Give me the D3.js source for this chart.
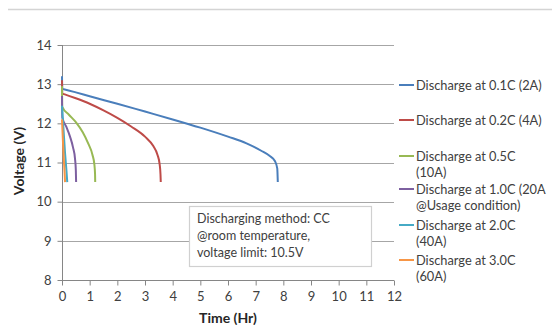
<!DOCTYPE html>
<html><head><meta charset="utf-8">
<script src="https://cdn.jsdelivr.net/npm/d3@7"></script>
<style>body{margin:0;background:#fff}svg{display:block}text{font-family:Lato,"Open Sans",sans-serif}</style>
</head><body><svg id="c" width="552" height="325"></svg>
<script>
// Data (time in hours, voltage in V)
const seriesNames = ["Discharge at 0.1C (2A)","Discharge at 0.2C (4A)","Discharge at 0.5C (10A)","Discharge at 1.0C (20A @Usage condition)","Discharge at 2.0C (40A)","Discharge at 3.0C (60A)"];
const legendLines = [["Discharge at 0.1C (2A)"],["Discharge at 0.2C (4A)"],["Discharge at 0.5C","(10A)"],["Discharge at 1.0C (20A","@Usage condition)"],["Discharge at 2.0C","(40A)"],["Discharge at 3.0C","(60A)"]];
const colors = ["#4A7EBB","#BE4B48","#98B954","#7D60A0","#46AAC5","#F79646"];
const d01 = [[0,13.2],[0.01,12.88],[0.1,12.865],[0.5,12.79],[1,12.69],[2,12.5],[3,12.3],[4,12.1],[5,11.89],[6,11.66],[6.67,11.49],[7.2,11.3],[7.5,11.17],[7.7,11.03],[7.78,10.85],[7.8,10.5]];
const d02 = [[0,13.1],[0.01,12.76],[0.1,12.74],[0.5,12.64],[1,12.5],[1.5,12.33],[2,12.14],[2.5,11.92],[3,11.66],[3.3,11.42],[3.45,11.2],[3.53,10.95],[3.56,10.7],[3.57,10.5]];
const d05 = [[0,12.95],[0.01,12.42],[0.25,12.22],[0.5,12.03],[0.75,11.77],[0.95,11.48],[1.1,11.2],[1.17,10.95],[1.195,10.7],[1.2,10.5]];
const d10 = [[0,12.7],[0.01,12.15],[0.15,11.92],[0.29,11.66],[0.4,11.38],[0.47,11.1],[0.5,10.8],[0.51,10.5]];
const d20 = [[0,12.45],[0.05,11.9],[0.11,11.24],[0.16,10.8],[0.19,10.5]];
const d30 = [[0,12.1],[0.03,11.6],[0.06,11.15],[0.09,10.8],[0.11,10.5]];
const seriesData = [d01,d02,d05,d10,d20,d30];
const xTicks = [0,1,2,3,4,5,6,7,8,9,10,11,12];
const yTicks = [8,9,10,11,12,13,14];
const noteLines = ["Discharging method: CC","@room temperature,","voltage limit: 10.5V"];

const svg = d3.select("#c");
const x = d3.scaleLinear().domain([0,12]).range([62,394]);
const y = d3.scaleLinear().domain([8,14]).range([280,45]);

// top separator line
svg.append("line").attr("x1",8).attr("x2",552).attr("y1",9.5).attr("y2",9.5).attr("stroke","#d4d4d4").attr("stroke-width",1.5);

// gridlines
svg.append("g").selectAll("line").data(yTicks.filter(v=>v>8)).join("line")
  .attr("x1",x(0)).attr("x2",x(12)).attr("y1",d=>Math.round(y(d))+0.5).attr("y2",d=>Math.round(y(d))+0.5)
  .attr("stroke","#a6a6a6").attr("stroke-width",1);

// axes
const yAxis = d3.axisLeft(y).tickValues(yTicks).tickFormat(d3.format("d")).tickSize(5).tickPadding(6);
const gy = svg.append("g").attr("transform",`translate(${x(0)+0.5},0)`).call(yAxis);
const xAxis = d3.axisBottom(x).tickValues(xTicks).tickFormat(d3.format("d")).tickSize(5).tickPadding(6);
const gx = svg.append("g").attr("transform",`translate(0,${y(8)+0.5})`).call(xAxis);
[gx,gy].forEach(g=>{
  g.select(".domain").attr("stroke","#868686");
  g.selectAll(".tick line").attr("stroke","#868686");
  g.selectAll(".tick text").attr("fill","#404040").style("font-size","13px").style("font-family","Lato, sans-serif");
});
gy.select(".domain").attr("d",`M0,${y(14)}V${y(8)}`);
gx.select(".domain").attr("d",`M${x(0)},0H${x(12)}`);

// curves
const line = d3.line().x(d=>x(d[0])).y(d=>y(d[1])).curve(d3.curveMonotoneX);
svg.append("g").selectAll("path").data(seriesData).join("path")
  .attr("d",line).attr("fill","none").attr("stroke",(d,i)=>colors[i]).attr("stroke-width",2);

// note box
const bx = svg.append("g");
bx.append("rect").attr("x",189.5).attr("y",206.5).attr("width",182).attr("height",60)
  .attr("fill","#fff").attr("stroke","#d0d0d0").attr("stroke-width",1.2);
bx.selectAll("text").data(noteLines).join("text").attr("x",197).attr("y",(d,i)=>223+i*17)
  .attr("fill","#404040").style("font-size","12.5px").text(d=>d);

// legend
const legY = [85,120,156,189,225,260];
const lg = svg.append("g");
legendLines.forEach((lines,i)=>{
  lg.append("line").attr("x1",399).attr("x2",414).attr("y1",legY[i]).attr("y2",legY[i]).attr("stroke",colors[i]).attr("stroke-width",2);
  lines.forEach((t,j)=>{
    lg.append("text").attr("x",416).attr("y",legY[i]+4.5+j*16.5).attr("fill","#404040").style("font-size","12.8px").text(t);
  });
});

// axis titles
svg.append("text").attr("transform",`translate(24,161) rotate(-90)`).attr("text-anchor","middle")
  .style("font-size","14px").style("font-weight","bold").attr("fill","#262626").text("Voltage (V)");
svg.append("text").attr("x",228).attr("y",323).attr("text-anchor","middle")
  .style("font-size","14px").style("font-weight","bold").attr("fill","#262626").text("Time (Hr)");
</script></body></html>
